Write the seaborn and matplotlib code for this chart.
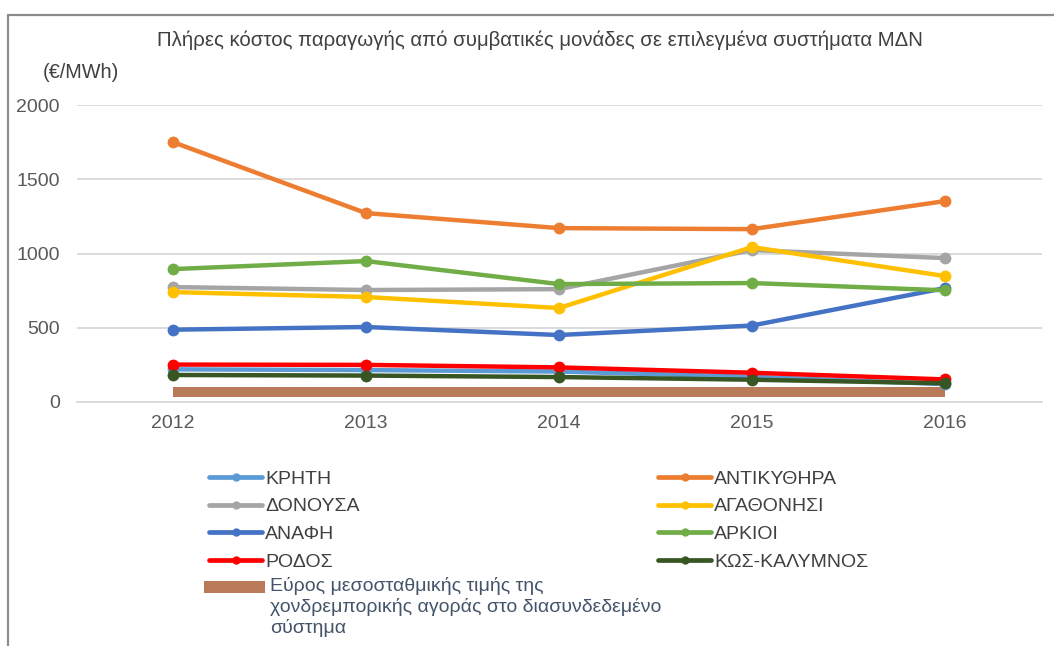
import matplotlib
matplotlib.use("Agg")
import matplotlib.pyplot as plt
import seaborn as sns
import numpy as np
import pandas as pd
from matplotlib.lines import Line2D
from matplotlib.patches import Patch, Rectangle
from matplotlib.legend_handler import HandlerPatch

# ---------------- data ----------------
years = [2012, 2013, 2014, 2015, 2016]
kriti = [220, 215, 205, 170, 120]
antikythira = [1750, 1272, 1171, 1164, 1353]
donousa = [774, 754, 760, 1023, 969]
agathonisi = [740, 707, 633, 1043, 848]
anafi = [487, 505, 451, 515, 767]
arkioi = [895, 949, 794, 801, 752]
rodos = [252, 250, 233, 197, 152]
kos = [182, 178, 168, 150, 126]
band_low = [35, 35, 35, 35, 35]
band_high = [100, 100, 100, 100, 100]

series_names = ["ΚΡΗΤΗ", "ΑΝΤΙΚΥΘΗΡΑ", "ΔΟΝΟΥΣΑ", "ΑΓΑΘΟΝΗΣΙ", "ΑΝΑΦΗ",
                "ΑΡΚΙΟΙ", "ΡΟΔΟΣ", "ΚΩΣ-ΚΑΛΥΜΝΟΣ"]
series_values = [kriti, antikythira, donousa, agathonisi, anafi, arkioi, rodos, kos]
series_colors = ["#5B9BD5", "#ED7D31", "#A5A5A5", "#FFC000", "#4472C4",
                 "#70AD47", "#FF0000", "#375623"]
band_label = ("Εύρος μεσοσταθμικής τιμής της\n"
              "χονδρεμπορικής αγοράς στο διασυνδεδεμένο\nσύστημα")
band_color = "#B87A58"

title = "Πλήρες κόστος παραγωγής από συμβατικές μονάδες σε επιλεγμένα συστήματα ΜΔΝ"
unit_label = "(€/MWh)"
yticks = [0, 500, 1000, 1500, 2000]

# ---------------- figure ----------------
sns.set_theme(style="white")
plt.rcParams["font.family"] = ["Liberation Sans", "DejaVu Sans"]

W, H = 1054, 646
fig = plt.figure(figsize=(W / 100, H / 100), dpi=100)
ax = fig.add_axes([76.5 / W, 1 - 402 / H, (1041.5 - 76.5) / W, (402 - 105) / H])

ax.fill_between(years, band_low, band_high, color=band_color, linewidth=0, zorder=1)

for name, vals, col in zip(series_names, series_values, series_colors):
    sns.lineplot(x=years, y=vals, ax=ax, color=col, linewidth=3.2, marker="o",
                 markersize=8.5, markeredgewidth=0, label=name, zorder=3,
                 legend=False)

ax.set_xlim(2011.5, 2016.5)
ax.set_ylim(0, 2000)
ax.set_xticks(years)
ax.set_xticklabels([str(y) for y in years])
ax.set_yticks(yticks)
ax.grid(axis="y", color="#D9D9D9", linewidth=1.3)
ax.grid(axis="x", visible=False)
for s in ["top", "right", "left"]:
    ax.spines[s].set_visible(False)
ax.spines["bottom"].set_color("#D9D9D9")
ax.spines["bottom"].set_linewidth(1.3)
ax.tick_params(axis="y", length=0, pad=12, labelsize=14, labelcolor="#595959")
ax.tick_params(axis="x", length=0, pad=9, labelsize=14, labelcolor="#595959")
ax.set_xlabel("")
ax.set_ylabel("")

fig.text(540 / W, 1 - 40 / H, title, ha="center", va="center",
         fontsize=14.7, color="#404040")
fig.text(43 / W, 1 - 72 / H, unit_label, ha="left", va="center",
         fontsize=14.3, color="#404040")

# ---------------- legends ----------------
FS = 14
handles = [Line2D([0], [0], color=c, linewidth=3.4, marker="o", markersize=6,
                  markeredgewidth=0) for c in series_colors]
col1 = [0, 2, 4, 6]
col2 = [1, 3, 5, 7]
common = dict(frameon=False, fontsize=FS, handlelength=2.73, handletextpad=0.15,
              labelspacing=0.52, borderpad=0, borderaxespad=0, labelcolor="#404040",
              loc="upper left")
leg1 = fig.legend([handles[i] for i in col1], [series_names[i] for i in col1],
                  bbox_to_anchor=(209 / W, 1 - 470 / H), **common)
leg2 = fig.legend([handles[i] for i in col2], [series_names[i] for i in col2],
                  bbox_to_anchor=(658 / W, 1 - 470 / H), **common)


def top_patch(legend, orig_handle, xdescent, ydescent, width, height, fontsize):
    shift = 1.0 * fontsize
    return Rectangle((-xdescent, -ydescent + shift), width, height)


leg3 = fig.legend([Patch(facecolor=band_color, edgecolor="none")], [band_label],
                  bbox_to_anchor=(204 / W, 1 - 577 / H), frameon=False,
                  fontsize=FS, handlelength=3.14, handleheight=0.55,
                  handletextpad=0.25, borderpad=0, borderaxespad=0,
                  labelcolor="#44546A", loc="upper left",
                  handler_map={Patch: HandlerPatch(patch_func=top_patch)})
for t in leg3.get_texts():
    t.set_linespacing(1.2)

# ---------------- chart frame ----------------
fig.add_artist(Line2D([7.5 / W, 7.5 / W], [0, 1 - 15 / H], transform=fig.transFigure,
                      color="#8C8C8C", linewidth=1.6))
fig.add_artist(Line2D([7.5 / W, 1], [1 - 15 / H, 1 - 15 / H], transform=fig.transFigure,
                      color="#8C8C8C", linewidth=1.6))

fig.savefig("out.png", dpi=100, facecolor="white")
